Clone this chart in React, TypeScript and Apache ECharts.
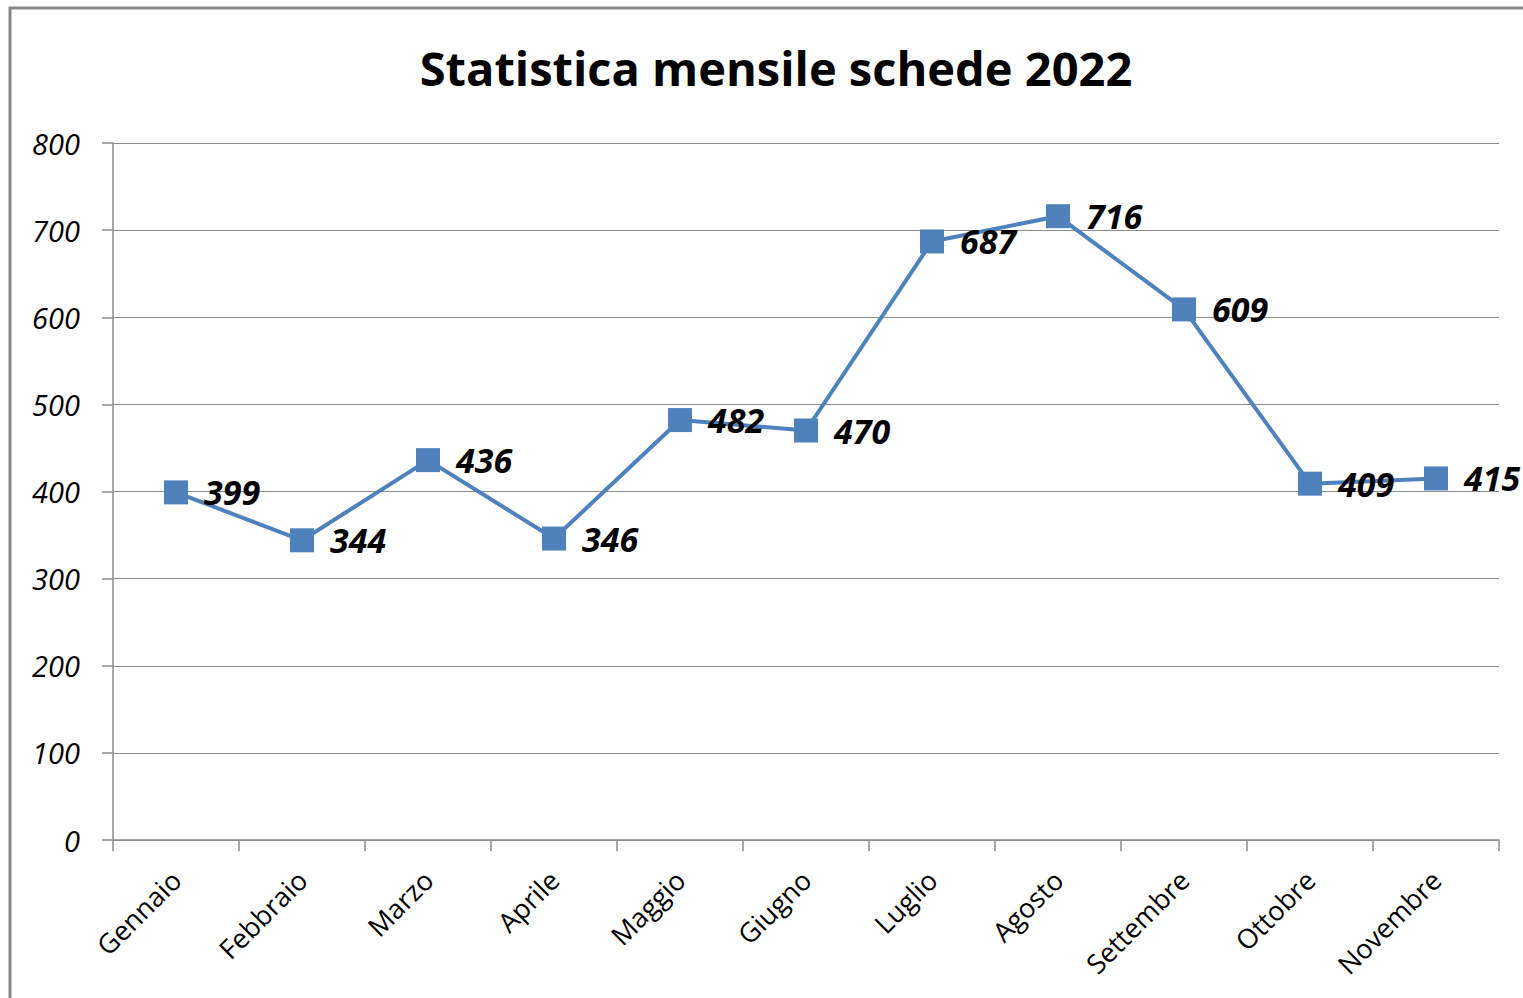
import React, { useEffect, useRef } from "react";
import * as echarts from "echarts";

const months = ["Gennaio", "Febbraio", "Marzo", "Aprile", "Maggio", "Giugno", "Luglio", "Agosto", "Settembre", "Ottobre", "Novembre"];
const values = [399, 344, 436, 346, 482, 470, 687, 716, 609, 409, 415];
const titleText = "Statistica mensile schede 2022";
const yMin = 0;
const yMax = 800;
const yStep = 100;

const FONT = "'Open Sans', Lato, sans-serif";

export default function App() {
  const ref = useRef<HTMLDivElement>(null);
  useEffect(() => {
    document.body.style.margin = "0";
    const chart = echarts.init(ref.current!, undefined, { renderer: "svg" });
    chart.setOption({
      animation: false,
      backgroundColor: "#ffffff",
      title: {
        text: titleText,
        left: 771,
        top: 39,
        textAlign: "center",
        textStyle: { fontFamily: FONT, fontWeight: "bold", fontSize: 47, color: "#000" },
      },
      graphic: [
        {
          type: "rect",
          shape: { x: 10, y: 8, width: 1530, height: 1010 },
          style: { fill: "none", stroke: "#8a8a8a", lineWidth: 3 },
          silent: true,
        },
      ],
      grid: { left: 113, right: 24, top: 143, bottom: 158, containLabel: false },
      xAxis: {
        type: "category",
        data: months,
        boundaryGap: true,
        axisLine: { show: true, lineStyle: { color: "#8c8c8c", width: 1.5 } },
        axisTick: { show: true, length: 11, lineStyle: { color: "#8c8c8c", width: 1.5 } },
        axisLabel: {
          rotate: 45,
          interval: 0,
          margin: 35,
          fontFamily: FONT,
          fontSize: 27,
          color: "#000",
        },
      },
      yAxis: {
        type: "value",
        min: yMin,
        max: yMax,
        interval: yStep,
        axisLine: { show: true, lineStyle: { color: "#8c8c8c", width: 1.5 } },
        axisTick: { show: true, length: 11, lineStyle: { color: "#8c8c8c", width: 1.5 } },
        splitLine: { show: true, lineStyle: { color: "#8c8c8c", width: 1.2 } },
        axisLabel: {
          margin: 33,
          fontFamily: FONT,
          fontStyle: "italic",
          fontSize: 29,
          color: "#000",
        },
      },
      series: [
        {
          type: "line",
          data: values,
          symbol: "rect",
          symbolSize: 24,
          lineStyle: { color: "#4f81bd", width: 4 },
          itemStyle: { color: "#4f81bd" },
          label: {
            show: true,
            position: "right",
            distance: 16,
            fontFamily: FONT,
            fontWeight: "bold",
            fontStyle: "italic",
            fontSize: 34,
            color: "#000",
          },
        },
      ],
    });
    return () => chart.dispose();
  }, []);
  return <div ref={ref} style={{ position: "absolute", left: 0, top: 0, width: 1523, height: 998 }} />;
}
